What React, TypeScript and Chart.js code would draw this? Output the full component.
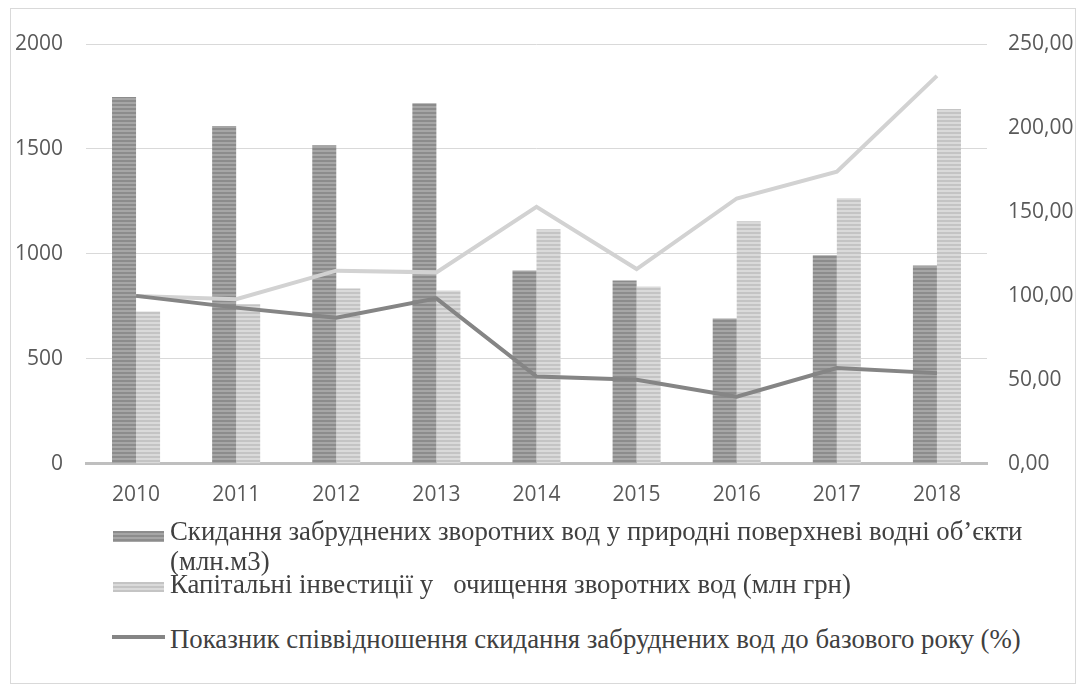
import React, { useEffect, useRef } from "react";
import { Chart, registerables } from "chart.js";
Chart.register(...registerables);

const years = ["2010", "2011", "2012", "2013", "2014", "2015", "2016", "2017", "2018"];
const discharge = [1747, 1609, 1518, 1718, 921, 873, 692, 993, 945];
const investment = [725, 760, 835, 826, 1117, 845, 1155, 1265, 1690];
const ratioLine = [100, 93, 87, 98.5, 52, 50, 40, 57, 54];
const investLine = [100, 98, 115, 114, 153, 116, 158, 174, 231];

const legendLabels = [
  "Скидання забруднених зворотних вод у природні поверхневі водні об’єкти (млн.м3)",
  "Капітальні інвестиції у   очищення зворотних вод (млн грн)",
  "Показник співвідношення скидання забруднених вод до базового року (%)",
];

function stripes(c1: string, c2: string): CanvasPattern | string {
  const cv = document.createElement("canvas");
  cv.width = 4;
  cv.height = 4;
  const ctx = cv.getContext("2d");
  if (!ctx) return c1;
  ctx.fillStyle = c1;
  ctx.fillRect(0, 0, 4, 2);
  ctx.fillStyle = c2;
  ctx.fillRect(0, 2, 4, 2);
  return ctx.createPattern(cv, "repeat") || c1;
}

export default function App() {
  const ref = useRef<HTMLCanvasElement>(null);
  useEffect(() => {
    if (!ref.current) return;
    const darkPat = stripes("#8c8c8c", "#a6a6a6");
    const lightPat = stripes("#c4c4c4", "#dadada");
    const tickFont = { family: "Open Sans", size: 21 };
    const chart = new Chart(ref.current, {
      type: "bar",
      data: {
        labels: years,
        datasets: [
          {
            type: "line",
            label: legendLabels[2],
            data: ratioLine,
            yAxisID: "y1",
            borderColor: "#858585",
            borderWidth: 4,
            pointRadius: 0,
            order: 0,
          },
          {
            type: "line",
            label: "",
            data: investLine,
            yAxisID: "y1",
            borderColor: "#d2d2d2",
            borderWidth: 4,
            pointRadius: 0,
            order: 1,
          },
          {
            type: "bar",
            label: legendLabels[0],
            data: discharge,
            yAxisID: "y",
            backgroundColor: darkPat as any,
            borderWidth: 0,
            barPercentage: 1,
            categoryPercentage: 0.48,
            order: 2,
          },
          {
            type: "bar",
            label: legendLabels[1],
            data: investment,
            yAxisID: "y",
            backgroundColor: lightPat as any,
            borderWidth: 0,
            barPercentage: 1,
            categoryPercentage: 0.48,
            order: 3,
          },
        ],
      },
      options: {
        responsive: false,
        animation: false,
        layout: { padding: { left: 15, right: 7, top: 44, bottom: 4 } },
        plugins: { legend: { display: false }, tooltip: { enabled: false } },
        scales: {
          x: {
            grid: { display: false, drawTicks: false },
            border: { color: "#bfbfbf", width: 3 },
            ticks: { color: "#595959", font: tickFont, padding: 19 },
          },
          y: {
            position: "left",
            min: 0,
            max: 2000,
            grid: { color: "#d9d9d9", lineWidth: 1, drawTicks: false },
            border: { display: false },
            afterFit: (s: any) => {
              s.width = 71;
            },
            ticks: {
              stepSize: 500,
              color: "#595959",
              font: tickFont,
              padding: 23,
              callback: (v: any) => String(v),
            },
          },
          y1: {
            position: "right",
            min: 0,
            max: 250,
            grid: { display: false, drawTicks: false },
            border: { display: false },
            afterFit: (s: any) => {
              s.width = 86;
            },
            ticks: {
              stepSize: 50,
              color: "#595959",
              font: tickFont,
              padding: 21,
              callback: (v: any) => Number(v).toFixed(2).replace(".", ","),
            },
          },
        },
      },
    });
    return () => chart.destroy();
  }, []);

  const serif = "'Liberation Serif', 'DejaVu Serif', serif";
  const textStyle: React.CSSProperties = {
    position: "absolute",
    left: 170,
    fontFamily: serif,
    fontSize: 26.8,
    lineHeight: "30px",
    color: "#404040",
  };
  return (
    <div style={{ position: "fixed", left: 0, top: 0, width: 1080, height: 688, background: "#fff" }}>
      <div
        style={{
          position: "absolute",
          left: 10,
          top: 8,
          width: 1066,
          height: 676,
          border: "1px solid #d9d9d9",
          boxSizing: "border-box",
        }}
      />
      <div style={{ position: "absolute", left: 0, top: 0, width: 1080, height: 531 }}>
        <canvas ref={ref} width={1080} height={531} />
      </div>
      <div
        style={{
          position: "absolute",
          left: 113,
          top: 531,
          width: 51,
          height: 11,
          background: "repeating-linear-gradient(#8c8c8c 0 2px, #a6a6a6 2px 4px)",
        }}
      />
      <div style={{ ...textStyle, top: 516, width: 870 }}>{legendLabels[0]}</div>
      <div
        style={{
          position: "absolute",
          left: 113,
          top: 582,
          width: 51,
          height: 10,
          background: "repeating-linear-gradient(#c4c4c4 0 2px, #dadada 2px 4px)",
        }}
      />
      <div style={{ ...textStyle, top: 569, whiteSpace: "pre" }}>{legendLabels[1]}</div>
      <div style={{ position: "absolute", left: 112, top: 635, width: 53, height: 4, background: "#858585" }} />
      <div style={{ ...textStyle, top: 624, whiteSpace: "pre" }}>{legendLabels[2]}</div>
    </div>
  );
}
